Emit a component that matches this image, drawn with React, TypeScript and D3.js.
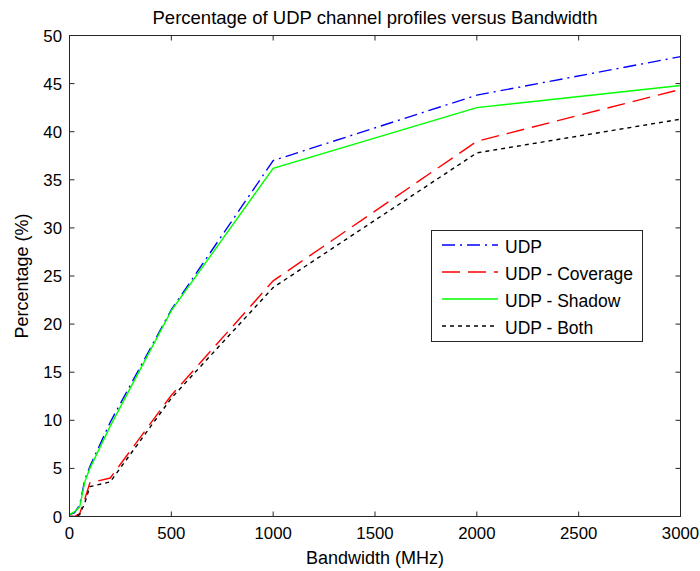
import React from "react";
import * as d3 from "d3";

const bandwidth = [0, 25, 50, 75, 100, 200, 500, 1000, 2000, 3000];
const udp = [0.2, 0.4, 1.2, 3.8, 5.2, 9.8, 21.5, 37.0, 43.8, 47.8];
const udpCoverage = [0, 0, 0.3, 1.8, 3.5, 4.0, 12.6, 24.5, 39.0, 44.4];
const udpShadow = [0.2, 0.5, 1.0, 3.6, 5.0, 9.4, 21.4, 36.2, 42.5, 44.8];
const udpBoth = [0, 0, 0.2, 1.4, 3.1, 3.6, 12.3, 23.8, 37.8, 41.3];

const seriesNames = ["UDP", "UDP - Coverage", "UDP - Shadow", "UDP - Both"];
const seriesValues = [udp, udpCoverage, udpShadow, udpBoth];
const seriesColors = ["#0000ff", "#ff0000", "#00ff00", "#000000"];
const seriesDash = ["13,5,2,5", "18,8", "none", "4,4"];

const xTicks = [0, 500, 1000, 1500, 2000, 2500, 3000];
const yTicks = [0, 5, 10, 15, 20, 25, 30, 35, 40, 45, 50];

const W = 700, H = 571;
const M = { left: 69.5, right: 680.5, top: 35.5, bottom: 516.5 };
const FONT = "'Liberation Sans', Arial, sans-serif";

export default function App() {
  const x = d3.scaleLinear().domain([0, 3000]).range([M.left, M.right]);
  const y = d3.scaleLinear().domain([0, 50]).range([M.bottom, M.top]);
  const line = d3
    .line<number>()
    .x((_, i) => x(bandwidth[i]))
    .y((d) => y(d));
  const tickLen = 5;
  const axisColor = "#262626";
  return (
    <svg
      width={W}
      height={H}
      style={{ position: "absolute", left: 0, top: 0, background: "#fff" }}
      fontFamily={FONT}
    >
      <rect x={0} y={0} width={W} height={H} fill="#fff" />
      <defs>
        <clipPath id="plot">
          <rect x={M.left} y={M.top} width={M.right - M.left} height={M.bottom - M.top} />
        </clipPath>
      </defs>
      <text x={(M.left + M.right) / 2} y={24} textAnchor="middle" fontSize={18.5} fill="#000">
        Percentage of UDP channel profiles versus Bandwidth
      </text>
      <g clipPath="url(#plot)">
        {seriesValues.map((vals, i) => (
          <path
            key={seriesNames[i]}
            d={line(vals) || ""}
            fill="none"
            stroke={seriesColors[i]}
            strokeWidth={1.4}
            strokeDasharray={seriesDash[i]}
          />
        ))}
      </g>
      <rect
        x={M.left}
        y={M.top}
        width={M.right - M.left}
        height={M.bottom - M.top}
        fill="none"
        stroke={axisColor}
        strokeWidth={1}
      />
      {xTicks.map((t) => (
        <g key={"x" + t}>
          <line x1={x(t)} x2={x(t)} y1={M.bottom} y2={M.bottom - tickLen} stroke={axisColor} />
          <line x1={x(t)} x2={x(t)} y1={M.top} y2={M.top + tickLen} stroke={axisColor} />
          <text x={x(t)} y={538.5} textAnchor="middle" fontSize={16.8} fill="#000">
            {t}
          </text>
        </g>
      ))}
      {yTicks.map((t) => (
        <g key={"y" + t}>
          <line x1={M.left} x2={M.left + tickLen} y1={y(t)} y2={y(t)} stroke={axisColor} />
          <line x1={M.right} x2={M.right - tickLen} y1={y(t)} y2={y(t)} stroke={axisColor} />
          <text x={62} y={y(t)} dy="0.36em" textAnchor="end" fontSize={16.8} fill="#000">
            {t}
          </text>
        </g>
      ))}
      <text x={(M.left + M.right) / 2} y={564} textAnchor="middle" fontSize={18} fill="#000">
        Bandwidth (MHz)
      </text>
      <text
        transform={`translate(28,${(M.top + M.bottom) / 2}) rotate(-90)`}
        textAnchor="middle"
        fontSize={18}
        fill="#000"
      >
        Percentage (%)
      </text>
      <g>
        <rect x={431.5} y={230.5} width={211} height={111} fill="#fff" stroke={axisColor} />
        {seriesNames.map((name, i) => {
          const ly = 245 + i * 27;
          return (
            <g key={"lg" + name}>
              <line
                x1={442}
                x2={498}
                y1={ly}
                y2={ly}
                stroke={seriesColors[i]}
                strokeWidth={1.4}
                strokeDasharray={seriesDash[i]}
              />
              <text x={505} y={ly + 8} fontSize={17.5} fill="#000">
                {name}
              </text>
            </g>
          );
        })}
      </g>
    </svg>
  );
}
